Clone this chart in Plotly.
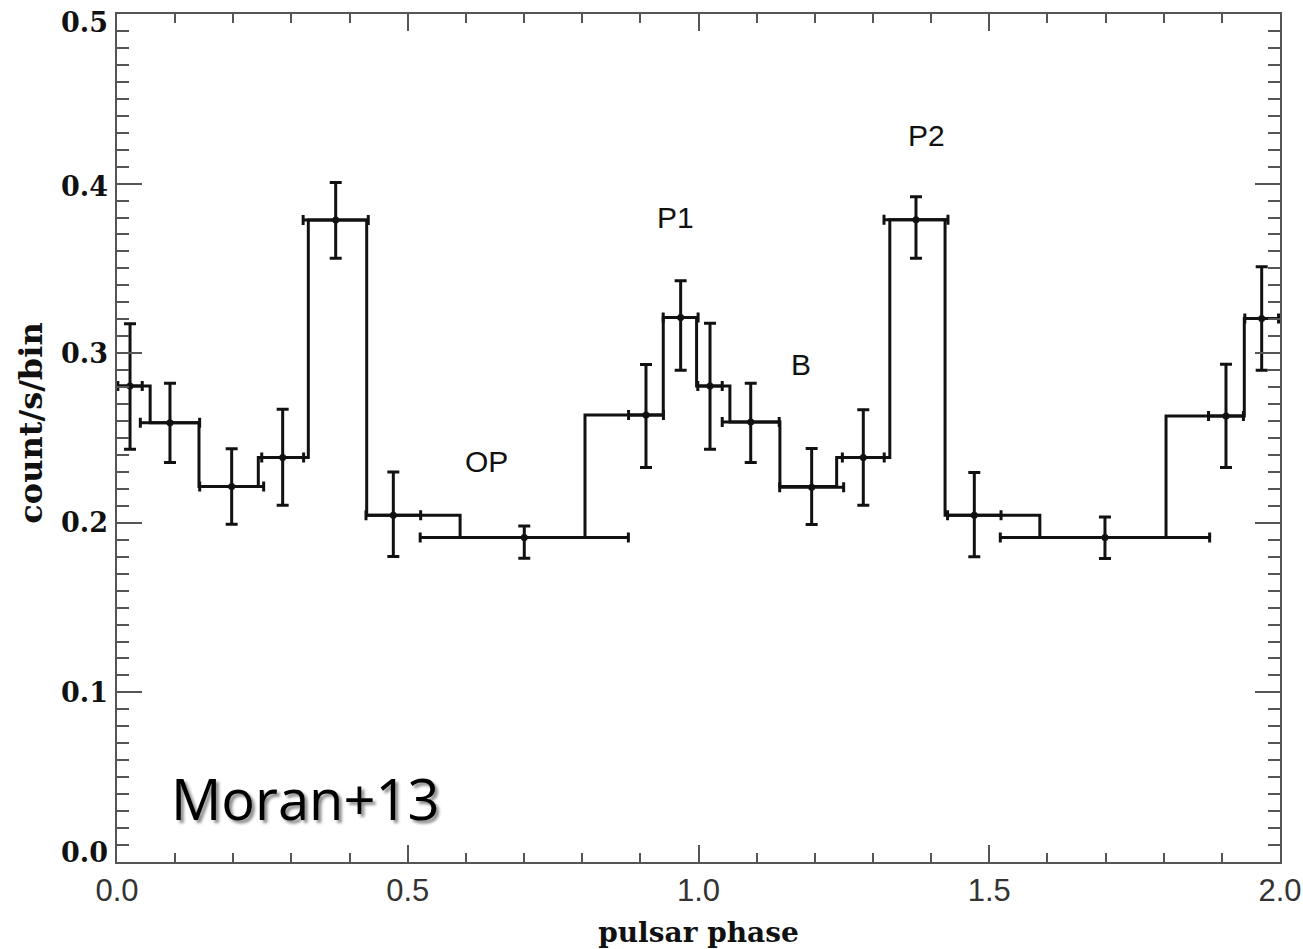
import plotly.graph_objects as go

# Histogram steps: bin edges (pulsar phase) and count rate in each bin
step_edges = [0.000, 0.057, 0.141, 0.243, 0.329, 0.4294, 0.590, 0.8048, 0.9394,
              0.9967, 1.054, 1.140, 1.2376, 1.329, 1.424, 1.587, 1.804, 1.9386, 2.000]
step_rates = [0.2807, 0.259, 0.2214, 0.2385, 0.3786, 0.2044, 0.1913, 0.2636, 0.321,
              0.2807, 0.2595, 0.2214, 0.2385, 0.3787, 0.2044, 0.1913, 0.263, 0.3205]

# Measured points with phase and rate uncertainties
pt_phase = [0.0224, 0.0911, 0.1972, 0.2849, 0.3761, 0.4752, 0.7004, 0.9097, 0.9693,
            1.0198, 1.0898, 1.1946, 1.2834, 1.374, 1.4743, 1.699, 1.9071, 1.9685]
pt_phase_err = [0.021, 0.051, 0.055, 0.036, 0.056, 0.047, 0.179, 0.030, 0.030,
                0.021, 0.049, 0.055, 0.036, 0.055, 0.046, 0.180, 0.030, 0.029]
pt_rate = [0.2807, 0.259, 0.2214, 0.2385, 0.3786, 0.2044, 0.1913, 0.2636, 0.321,
           0.2807, 0.2595, 0.221, 0.2385, 0.3787, 0.2044, 0.1913, 0.263, 0.3205]
pt_err_up = [0.0367, 0.0233, 0.0222, 0.0285, 0.0221, 0.0256, 0.0068, 0.0297, 0.0217,
             0.037, 0.0228, 0.0228, 0.0281, 0.0135, 0.0252, 0.0121, 0.0305, 0.0305]
pt_err_dn = [0.0373, 0.0235, 0.0223, 0.0282, 0.0226, 0.0243, 0.0122, 0.031, 0.031,
             0.0373, 0.024, 0.022, 0.0282, 0.0227, 0.0244, 0.0123, 0.0304, 0.0305]

# Axis tick values and labels
x_ticks = [0.0, 0.5, 1.0, 1.5, 2.0]
x_tick_text = ["0.0", "0.5", "1.0", "1.5", "2.0"]
y_ticks = [0.0, 0.1, 0.2, 0.3, 0.4, 0.5]
y_tick_text = ["0.0", "0.1", "0.2", "0.3", "0.4", "0.5"]
# end labels sit inside the frame, IDL style
y_tick_nudge = [10, 0, 0, 0, -3, -8]

# Component labels
label_text = ["OP", "P1", "B", "P2"]
label_phase = [0.6355, 0.9596, 1.1754, 1.3929]
label_rate = [0.2360, 0.3802, 0.2935, 0.4286]

ink = "#111111"
frame = "#555555"
serif_bold = dict(family="DejaVu Serif", color="#111111", weight="bold")

fig = go.Figure()

fig.add_trace(go.Scatter(
    x=step_edges,
    y=step_rates + [step_rates[-1]],
    mode="lines",
    line=dict(color=ink, width=3, shape="hv"),
    hoverinfo="skip",
))

fig.add_trace(go.Scatter(
    x=pt_phase,
    y=pt_rate,
    mode="markers",
    marker=dict(color=ink, size=7),
    error_x=dict(type="data", array=pt_phase_err, symmetric=True,
                 color=ink, thickness=3, width=5),
    error_y=dict(type="data", array=pt_err_up, arrayminus=pt_err_dn, symmetric=False,
                 color=ink, thickness=3, width=6),
))

for t, xp, yp in zip(label_text, label_phase, label_rate):
    fig.add_annotation(x=xp, y=yp, text=t, showarrow=False,
                       font=dict(family="Liberation Sans, Arial", size=30, color="#111111"),
                       xanchor="center", yanchor="middle")

# y tick labels
for v, t, dy in zip(y_ticks, y_tick_text, y_tick_nudge):
    fig.add_annotation(xref="paper", x=0, yref="y", y=v, text=t, showarrow=False,
                       xanchor="right", yanchor="middle", xshift=-7, yshift=dy,
                       font=dict(size=27, **serif_bold))

# y axis title
fig.add_annotation(xref="paper", x=-0.074, yref="y", y=0.259, text="count/s/bin",
                   showarrow=False, textangle=-90, xanchor="center", yanchor="middle",
                   font=dict(size=32, **serif_bold))

fig.add_annotation(x=0.3225, y=0.038, text="Moran+13", showarrow=False,
                   xanchor="center", yanchor="middle",
                   font=dict(family="Open Sans", size=56, color="#000000",
                             shadow="3px 3px 3px rgba(0,0,0,0.45)"))

axis_common = dict(
    showline=True, linecolor=frame, linewidth=2, mirror="ticks",
    ticks="inside", tickcolor=frame, tickwidth=2,
    showgrid=False, zeroline=False, automargin=False,
)

fig.update_xaxes(
    range=[0, 2], tickvals=x_ticks, ticktext=x_tick_text, ticklen=17,
    minor=dict(dtick=0.1, ticks="inside", ticklen=9, tickcolor=frame, tickwidth=2),
    tickfont=dict(family="Liberation Sans, Arial", size=31, color="#333333"),
    title=dict(text="pulsar phase", standoff=15, font=dict(size=28, **serif_bold)),
    **axis_common,
)
fig.update_yaxes(
    range=[0, 0.5], tickvals=y_ticks, ticklen=25, showticklabels=False,
    minor=dict(dtick=0.01, ticks="inside", ticklen=12, tickcolor=frame, tickwidth=2),
    **axis_common,
)

fig.update_layout(
    width=1303, height=949,
    margin=dict(l=117, r=23, t=14, b=87),
    paper_bgcolor="white", plot_bgcolor="white",
    showlegend=False,
)

fig.write_html("out.html")
